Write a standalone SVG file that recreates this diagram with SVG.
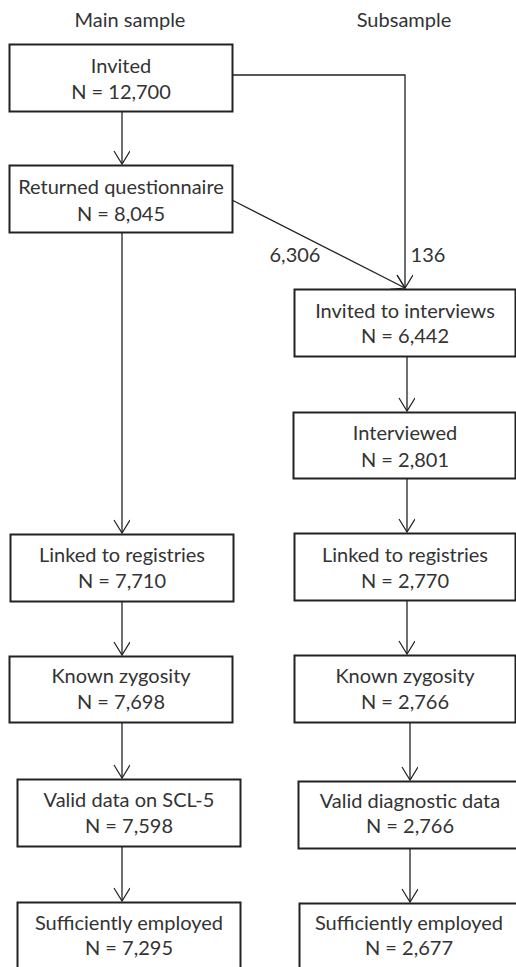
<svg xmlns="http://www.w3.org/2000/svg" width="516" height="967" viewBox="0 0 516 967">
<defs>
<marker id="arr" markerUnits="userSpaceOnUse" markerWidth="20" markerHeight="20" refX="14" refY="8" orient="auto">
<path d="M1,0 L14,8 L1,16" fill="none" stroke="#222" stroke-width="1.2"/>
</marker>
<style>
.box{fill:#fff;stroke:#222;stroke-width:2}
.t{font-family:Lato,"Open Sans","Liberation Sans",sans-serif;font-size:20px;fill:#333;text-anchor:middle}
.c{fill:none;stroke:#222;stroke-width:1.3}
</style>
</defs>
<rect width="516" height="967" fill="#fff"/>
<text class="t" x="130" y="27">Main sample</text>
<text class="t" x="404" y="27">Subsample</text>
<g id="connectors">
<line class="c" x1="122" y1="111" x2="122" y2="164" marker-end="url(#arr)"/>
<polyline class="c" points="232,75 405,75 405,288" marker-end="url(#arr)"/>
<line class="c" x1="232" y1="200" x2="405" y2="288" marker-end="url(#arr)"/>
<line class="c" x1="122" y1="232" x2="122" y2="533" marker-end="url(#arr)"/>
<line class="c" x1="122" y1="601" x2="122" y2="655" marker-end="url(#arr)"/>
<line class="c" x1="122" y1="722" x2="122" y2="778" marker-end="url(#arr)"/>
<line class="c" x1="122" y1="846" x2="122" y2="901" marker-end="url(#arr)"/>
<line class="c" x1="407" y1="356" x2="407" y2="411" marker-end="url(#arr)"/>
<line class="c" x1="407" y1="478" x2="407" y2="532" marker-end="url(#arr)"/>
<line class="c" x1="407" y1="600" x2="407" y2="654" marker-end="url(#arr)"/>
<line class="c" x1="410" y1="722" x2="410" y2="780" marker-end="url(#arr)"/>
<line class="c" x1="410" y1="848" x2="410" y2="902" marker-end="url(#arr)"/>
<text class="t" x="295" y="262">6,306</text>
<text class="t" x="428" y="262">136</text>
</g>
<g id="invited">
<rect class="box" x="9.5" y="44.5" width="223" height="67"/>
<text class="t" x="121" y="73">Invited</text>
<text class="t" x="121" y="99">N = 12,700</text>
</g>
<g id="returned">
<rect class="box" x="9.5" y="165.5" width="223" height="67"/>
<text class="t" x="121" y="194">Returned questionnaire</text>
<text class="t" x="121" y="221">N = 8,045</text>
</g>
<g id="linked-main">
<rect class="box" x="10.5" y="534.5" width="223" height="67"/>
<text class="t" x="122" y="562">Linked to registries</text>
<text class="t" x="122" y="588">N = 7,710</text>
</g>
<g id="known-main">
<rect class="box" x="9.5" y="656.5" width="223" height="66"/>
<text class="t" x="121" y="683">Known zygosity</text>
<text class="t" x="121" y="709">N = 7,698</text>
</g>
<g id="valid-main">
<rect class="box" x="17.5" y="779.5" width="223" height="67"/>
<text class="t" x="129" y="807">Valid data on SCL-5</text>
<text class="t" x="129" y="833">N = 7,598</text>
</g>
<g id="employed-main">
<rect class="box" x="17.5" y="902.5" width="223" height="80"/>
<text class="t" x="129" y="930">Sufficiently employed</text>
<text class="t" x="129" y="955">N = 7,295</text>
</g>
<g id="invited-interviews">
<rect class="box" x="294.5" y="289.5" width="221" height="67"/>
<text class="t" x="405" y="318">Invited to interviews</text>
<text class="t" x="405" y="343">N = 6,442</text>
</g>
<g id="interviewed">
<rect class="box" x="293.5" y="412.5" width="222" height="66"/>
<text class="t" x="405" y="440">Interviewed</text>
<text class="t" x="405" y="467">N = 2,801</text>
</g>
<g id="linked-sub">
<rect class="box" x="294.5" y="533.5" width="221" height="67"/>
<text class="t" x="405" y="562">Linked to registries</text>
<text class="t" x="405" y="588">N = 2,770</text>
</g>
<g id="known-sub">
<rect class="box" x="294.5" y="655.5" width="221" height="67"/>
<text class="t" x="405" y="683">Known zygosity</text>
<text class="t" x="405" y="709">N = 2,766</text>
</g>
<g id="valid-sub">
<rect class="box" x="298.5" y="781.5" width="225" height="67"/>
<text class="t" x="410" y="808">Valid diagnostic data</text>
<text class="t" x="410" y="833">N = 2,766</text>
</g>
<g id="employed-sub">
<rect class="box" x="299.5" y="903.5" width="225" height="80"/>
<text class="t" x="409" y="930">Sufficiently employed</text>
<text class="t" x="409" y="955">N = 2,677</text>
</g>
</svg>
